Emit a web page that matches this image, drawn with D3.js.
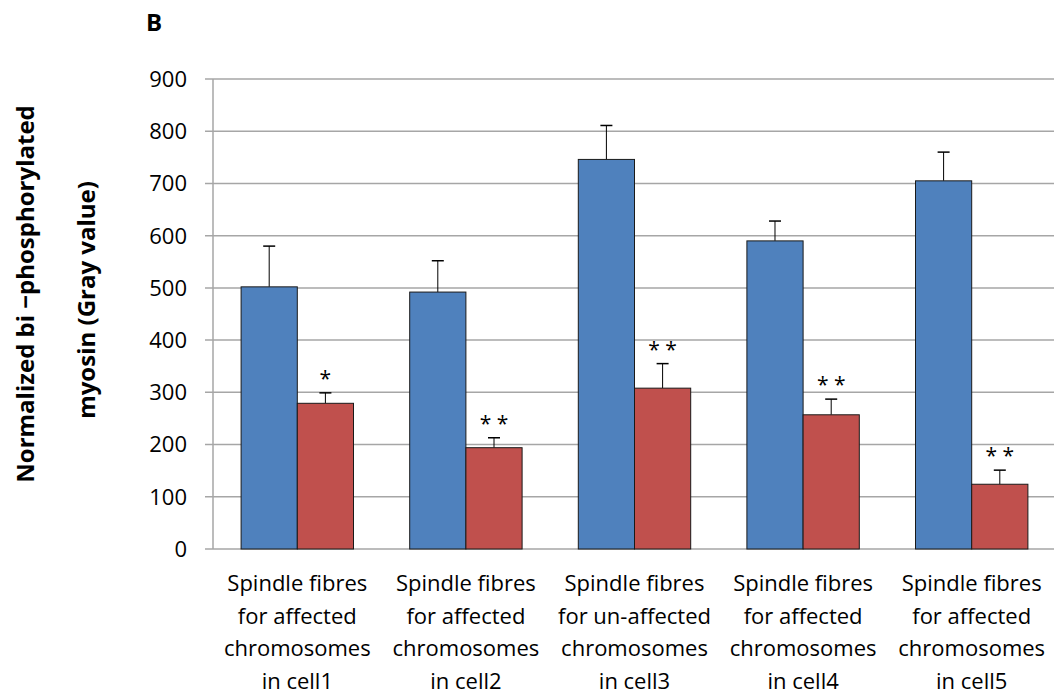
<!DOCTYPE html>
<html>
<head>
<meta charset="utf-8">
<script src="https://cdn.jsdelivr.net/npm/d3@7"></script>
<style>
  body { margin: 0; background: #fff; }
  text { font-family: "Open Sans", "Liberation Sans", sans-serif; fill: #000; }
</style>
</head>
<body>
<div id="chart"></div>
<script>
// Chart data
var categories = ["cell1", "cell2", "cell3", "cell4", "cell5"];
var catLabels = [
  ["Spindle fibres", "for affected", "chromosomes", "in cell1"],
  ["Spindle fibres", "for affected", "chromosomes", "in cell2"],
  ["Spindle fibres", "for un-affected", "chromosomes", "in cell3"],
  ["Spindle fibres", "for affected", "chromosomes", "in cell4"],
  ["Spindle fibres", "for affected", "chromosomes", "in cell5"]
];
var blueValues = [502, 492, 746, 590, 705];
var blueErrors = [78, 60, 65, 38, 55];
var redValues = [279, 194, 308, 257, 124];
var redErrors = [20, 19, 47, 30, 27];
var stars = ["*", "* *", "* *", "* *", "* *"];
var yTicks = [0, 100, 200, 300, 400, 500, 600, 700, 800, 900];

var svgWidth = 1054;
var svgHeight = 698;
var margin = {top: 79, right: -2, bottom: 149, left: 213};
var width = svgWidth - margin.left - margin.right;
var height = svgHeight - margin.top - margin.bottom;

var svg = d3.select("#chart").append("svg")
  .attr("width", svgWidth)
  .attr("height", svgHeight);

var chartGroup = svg.append("g")
  .attr("transform", "translate(" + margin.left + "," + margin.top + ")");

var x = d3.scaleBand().domain(categories).range([0, width]).paddingInner(0).paddingOuter(0);
var y = d3.scaleLinear().domain([0, 900]).range([height, 0]);
var barW = x.bandwidth() / 3;
var blueX = barW / 2;
var redX = barW * 1.5;

// gridlines
chartGroup.append("g").selectAll("line")
  .data(yTicks)
  .enter().append("line")
  .attr("x1", -8).attr("x2", width)
  .attr("y1", d => y(d)).attr("y2", d => y(d))
  .attr("stroke", "#a6a6a6").attr("stroke-width", 1.5);

// y axis line
chartGroup.append("line")
  .attr("x1", 0).attr("x2", 0).attr("y1", 0).attr("y2", height)
  .attr("stroke", "#a6a6a6").attr("stroke-width", 1.5);

// tick labels
chartGroup.append("g").selectAll("text")
  .data(yTicks)
  .enter().append("text")
  .attr("x", -26).attr("y", d => y(d))
  .attr("dy", "0.36em")
  .attr("text-anchor", "end")
  .style("font-size", "22px")
  .text(d => d);

var groups = chartGroup.selectAll(".grp")
  .data(categories)
  .enter().append("g")
  .attr("class", "grp")
  .attr("transform", d => "translate(" + x(d) + ",0)");

// error bars (upward only) drawn first
function errBar(vals, errs, off) {
  groups.append("line")
    .attr("x1", off + barW / 2).attr("x2", off + barW / 2)
    .attr("y1", (d, i) => y(vals[i])).attr("y2", (d, i) => y(vals[i] + errs[i]))
    .attr("stroke", "#000").attr("stroke-width", 1);
  groups.append("line")
    .attr("x1", off + barW / 2 - 6).attr("x2", off + barW / 2 + 6)
    .attr("y1", (d, i) => y(vals[i] + errs[i])).attr("y2", (d, i) => y(vals[i] + errs[i]))
    .attr("stroke", "#000").attr("stroke-width", 1.5);
}
errBar(blueValues, blueErrors, blueX);
errBar(redValues, redErrors, redX);

groups.append("rect")
  .attr("x", blueX).attr("width", barW)
  .attr("y", (d, i) => y(blueValues[i]))
  .attr("height", (d, i) => height - y(blueValues[i]))
  .attr("fill", "#4f81bd").attr("stroke", "#1a1a1a").attr("stroke-width", 1);

groups.append("rect")
  .attr("x", redX).attr("width", barW)
  .attr("y", (d, i) => y(redValues[i]))
  .attr("height", (d, i) => height - y(redValues[i]))
  .attr("fill", "#c0504d").attr("stroke", "#1a1a1a").attr("stroke-width", 1);

// significance stars
groups.append("text")
  .attr("x", redX + barW / 2)
  .attr("y", (d, i) => y(redValues[i] + redErrors[i]) - 7)
  .attr("text-anchor", "middle")
  .style("font-size", "21px")
  .text((d, i) => stars[i]);

// category labels
groups.each(function(d, i) {
  var t = d3.select(this).append("text")
    .attr("text-anchor", "middle")
    .style("font-size", "22px");
  catLabels[i].forEach(function(line, j) {
    t.append("tspan")
      .attr("x", x.bandwidth() / 2)
      .attr("y", height + 42 + j * 32.5)
      .text(line);
  });
});

// y axis title
svg.append("text")
  .attr("transform", "translate(34,294) rotate(-90)")
  .attr("text-anchor", "middle")
  .style("font-size", "24px").style("font-weight", "bold")
  .text("Normalized bi \u2212phosphorylated");
svg.append("text")
  .attr("transform", "translate(95,300) rotate(-90)")
  .attr("text-anchor", "middle")
  .style("font-size", "24px").style("font-weight", "bold")
  .text("myosin (Gray value)");

// panel letter
svg.append("text")
  .attr("x", 146).attr("y", 31)
  .style("font-size", "24px").style("font-weight", "bold")
  .text("B");
</script>
</body>
</html>
